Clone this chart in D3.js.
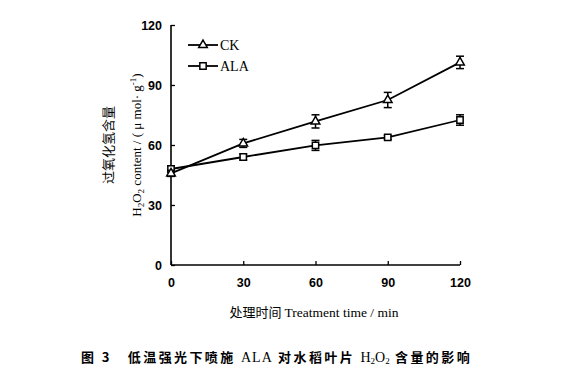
<!DOCTYPE html>
<html><head><meta charset="utf-8">
<script src="https://cdn.jsdelivr.net/npm/d3@7"></script>
<style>body{margin:0;background:#fff}</style>
</head><body>
<script>
const times = [0, 30, 60, 90, 120];
const ckValues = [45.8, 60.8, 71.8, 82.5, 101.3];
const ckErrors = [1.5, 2.0, 3.3, 3.8, 3.1];
const alaValues = [48.0, 54.0, 59.8, 63.8, 72.5];
const alaErrors = [1.5, 1.5, 2.5, 1.0, 2.6];
const yTicks = [0, 30, 60, 90, 120];
const xTicks = [0, 30, 60, 90, 120];

const W = 569, H = 391;
const svg = d3.select("body").append("svg").attr("width", W).attr("height", H);
const x = d3.scaleLinear().domain([0, 120]).range([171, 460]);
const y = d3.scaleLinear().domain([0, 120]).range([265, 25]);

const tickFont = "'Liberation Sans', Arial, sans-serif";
const serif = "'Liberation Serif', 'Times New Roman', serif";
const cjk = "'Noto Sans CJK SC', sans-serif";

// axes
const yAxis = d3.axisLeft(y).tickValues(yTicks).tickSize(-4).tickPadding(9);
const gy = svg.append("g").attr("transform", `translate(${x(0)},0)`).call(yAxis);
const xAxis = d3.axisBottom(x).tickValues(xTicks).tickSize(-4).tickPadding(13);
const gx = svg.append("g").attr("transform", `translate(0,${y(0)})`).call(xAxis);
[gy, gx].forEach(g => {
  g.select(".domain").attr("stroke", "#000").attr("stroke-width", 1.6);
  g.selectAll(".tick line").attr("stroke", "#000").attr("stroke-width", 1.3);
  g.selectAll(".tick text").attr("fill", "#000").attr("font-family", tickFont)
    .attr("font-weight", "bold").attr("font-size", 12.5);
});
gy.select(".domain").attr("d", `M0,${y(120)}V${y(0)}`);
gx.select(".domain").attr("d", `M${x(0)},0H${x(120)}`);

const symFor = shape => d3.symbol().type(shape === "tri" ? d3.symbolTriangle : d3.symbolSquare)
  .size(shape === "tri" ? 32 : 40);

function series(vals, errs, shape) {
  const g = svg.append("g");
  const line = d3.line().x((d, i) => x(times[i])).y(d => y(d));
  g.append("path").datum(vals).attr("d", line).attr("fill", "none")
    .attr("stroke", "#000").attr("stroke-width", 1.8);
  vals.forEach((v, i) => {
    const cx = x(times[i]);
    const y1 = y(v + errs[i]), y2 = y(v - errs[i]);
    g.append("line").attr("x1", cx).attr("x2", cx).attr("y1", y1).attr("y2", y2)
      .attr("stroke", "#000").attr("stroke-width", 1.5);
    [y1, y2].forEach(yy => g.append("line").attr("x1", cx - 4).attr("x2", cx + 4)
      .attr("y1", yy).attr("y2", yy).attr("stroke", "#000").attr("stroke-width", 1.5));
  });
  g.selectAll("path.m").data(vals).enter().append("path").attr("class", "m")
    .attr("d", symFor(shape)).attr("transform", (d, i) => `translate(${x(times[i])},${y(d)})`)
    .attr("fill", "#fff").attr("stroke", "#000").attr("stroke-width", 1.5);
}
series(alaValues, alaErrors, "sq");
series(ckValues, ckErrors, "tri");

// legend
const legend = [["CK", "tri", 45], ["ALA", "sq", 66]];
legend.forEach(([name, shape, ly]) => {
  svg.append("line").attr("x1", 188).attr("x2", 218).attr("y1", ly).attr("y2", ly)
    .attr("stroke", "#000").attr("stroke-width", 1.8);
  svg.append("path").attr("d", symFor(shape)).attr("transform", `translate(203,${ly})`)
    .attr("fill", "#fff").attr("stroke", "#000").attr("stroke-width", 1.5);
  svg.append("text").attr("x", 220).attr("y", ly + 5).text(name)
    .attr("font-family", serif).attr("font-size", 14);
});

// y title
const yt = svg.append("g").attr("transform", "translate(0,145) rotate(-90)");
yt.append("text").attr("x", 0).attr("y", 113).attr("text-anchor", "middle")
  .attr("font-family", cjk).attr("font-size", 13).text("过氧化氢含量");
const t2 = yt.append("text").attr("x", 0).attr("y", 141).attr("text-anchor", "middle")
  .attr("font-family", serif).attr("font-size", 13);
t2.append("tspan").text("H");
t2.append("tspan").attr("font-size", 9).attr("dy", 3).text("2");
t2.append("tspan").attr("dy", -3).text("O");
t2.append("tspan").attr("font-size", 9).attr("dy", 3).text("2");
t2.append("tspan").attr("dy", -3).text(" content / ( μ mol· g");
t2.append("tspan").attr("font-size", 9).attr("dy", -5).text("-1");
t2.append("tspan").attr("dy", 5).text(")");

// x title
const xt = svg.append("text").attr("x", 314).attr("y", 317).attr("text-anchor", "middle")
  .attr("font-size", 13.5);
xt.append("tspan").attr("font-family", cjk).attr("font-size", 13).text("处理时间 ");
xt.append("tspan").attr("font-family", serif).text("Treatment time / min");

// caption
const cap = svg.append("text").attr("x", 81).attr("y", 362).attr("font-size", 13)
  .attr("font-family", cjk).attr("font-weight", "bold").attr("letter-spacing", 2.4);
cap.append("tspan").text("图 3");
cap.append("tspan").attr("dx", 16).text("低温强光下喷施 ");
cap.append("tspan").attr("font-family", serif).attr("font-weight", "normal").attr("font-size", 14).attr("letter-spacing", 1).text("ALA");
cap.append("tspan").text(" 对水稻叶片 ");
cap.append("tspan").attr("font-family", serif).attr("font-weight", "normal").attr("font-size", 14).attr("letter-spacing", 0).text("H");
cap.append("tspan").attr("font-family", serif).attr("font-weight", "normal").attr("font-size", 9).attr("letter-spacing", 0).attr("dy", 2).text("2");
cap.append("tspan").attr("font-family", serif).attr("font-weight", "normal").attr("font-size", 14).attr("letter-spacing", 0).attr("dy", -2).text("O");
cap.append("tspan").attr("font-family", serif).attr("font-weight", "normal").attr("font-size", 9).attr("letter-spacing", 0).attr("dy", 2).text("2");
cap.append("tspan").attr("dy", -2).text(" 含量的影响");
</script>
</body></html>
